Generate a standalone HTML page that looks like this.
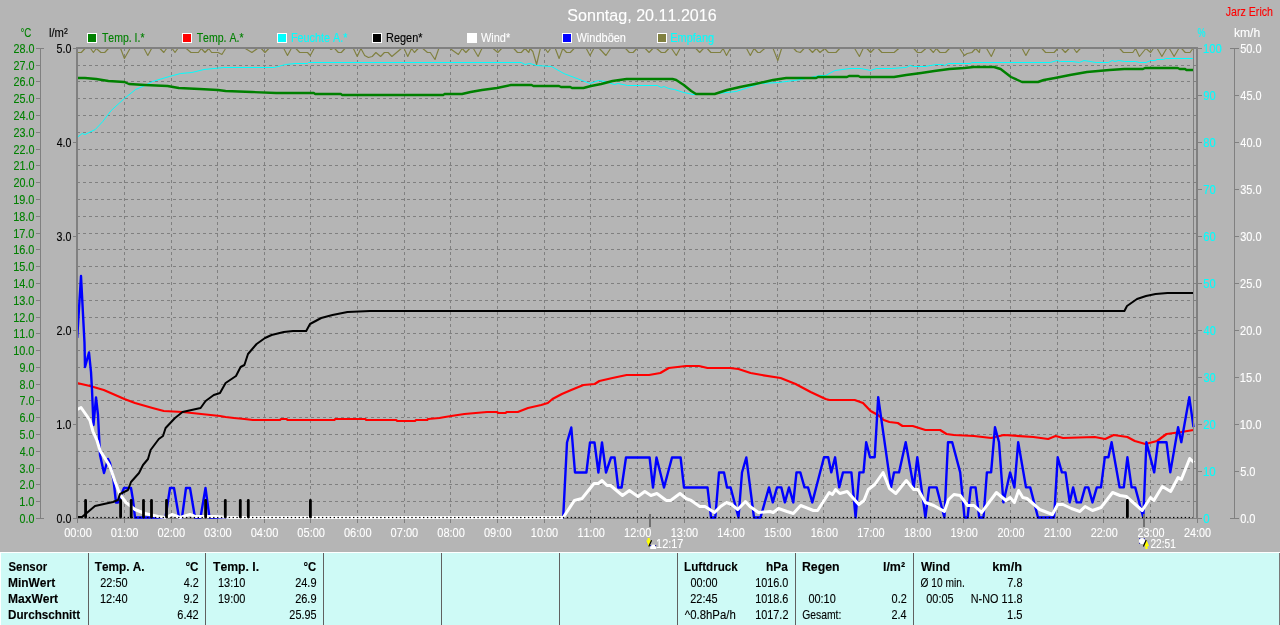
<!DOCTYPE html>
<html lang="de"><head><meta charset="utf-8"><title>Sonntag, 20.11.2016</title>
<style>html,body{margin:0;padding:0;background:#b5b5b5;overflow:hidden}svg{display:block}text{font-kerning:none;font-family:"Liberation Sans",sans-serif;white-space:pre}</style></head><body>
<svg width="1280" height="625" viewBox="0 0 1280 625">
<rect x="0" y="0" width="1280" height="625" fill="#b5b5b5"/>
<g stroke="#808080" stroke-width="1" stroke-dasharray="3 3" shape-rendering="crispEdges" fill="none">
<line x1="77" y1="501.5" x2="1193" y2="501.5"/>
<line x1="77" y1="484.5" x2="1193" y2="484.5"/>
<line x1="77" y1="468.5" x2="1193" y2="468.5"/>
<line x1="77" y1="451.5" x2="1193" y2="451.5"/>
<line x1="77" y1="434.5" x2="1193" y2="434.5"/>
<line x1="77" y1="417.5" x2="1193" y2="417.5"/>
<line x1="77" y1="400.5" x2="1193" y2="400.5"/>
<line x1="77" y1="384.5" x2="1193" y2="384.5"/>
<line x1="77" y1="367.5" x2="1193" y2="367.5"/>
<line x1="77" y1="350.5" x2="1193" y2="350.5"/>
<line x1="77" y1="333.5" x2="1193" y2="333.5"/>
<line x1="77" y1="317.5" x2="1193" y2="317.5"/>
<line x1="77" y1="300.5" x2="1193" y2="300.5"/>
<line x1="77" y1="283.5" x2="1193" y2="283.5"/>
<line x1="77" y1="266.5" x2="1193" y2="266.5"/>
<line x1="77" y1="249.5" x2="1193" y2="249.5"/>
<line x1="77" y1="233.5" x2="1193" y2="233.5"/>
<line x1="77" y1="216.5" x2="1193" y2="216.5"/>
<line x1="77" y1="199.5" x2="1193" y2="199.5"/>
<line x1="77" y1="182.5" x2="1193" y2="182.5"/>
<line x1="77" y1="165.5" x2="1193" y2="165.5"/>
<line x1="77" y1="149.5" x2="1193" y2="149.5"/>
<line x1="77" y1="132.5" x2="1193" y2="132.5"/>
<line x1="77" y1="115.5" x2="1193" y2="115.5"/>
<line x1="77" y1="98.5" x2="1193" y2="98.5"/>
<line x1="77" y1="81.5" x2="1193" y2="81.5"/>
<line x1="77" y1="65.5" x2="1193" y2="65.5"/>
<line x1="124.5" y1="49" x2="124.5" y2="517" stroke-dashoffset="1"/>
<line x1="171.5" y1="49" x2="171.5" y2="517" stroke-dashoffset="1"/>
<line x1="217.5" y1="49" x2="217.5" y2="517" stroke-dashoffset="1"/>
<line x1="264.5" y1="49" x2="264.5" y2="517" stroke-dashoffset="1"/>
<line x1="310.5" y1="49" x2="310.5" y2="517" stroke-dashoffset="1"/>
<line x1="357.5" y1="49" x2="357.5" y2="517" stroke-dashoffset="1"/>
<line x1="404.5" y1="49" x2="404.5" y2="517" stroke-dashoffset="1"/>
<line x1="450.5" y1="49" x2="450.5" y2="517" stroke-dashoffset="1"/>
<line x1="497.5" y1="49" x2="497.5" y2="517" stroke-dashoffset="1"/>
<line x1="544.5" y1="49" x2="544.5" y2="517" stroke-dashoffset="1"/>
<line x1="590.5" y1="49" x2="590.5" y2="517" stroke-dashoffset="1"/>
<line x1="637.5" y1="49" x2="637.5" y2="517" stroke-dashoffset="1"/>
<line x1="684.5" y1="49" x2="684.5" y2="517" stroke-dashoffset="1"/>
<line x1="730.5" y1="49" x2="730.5" y2="517" stroke-dashoffset="1"/>
<line x1="777.5" y1="49" x2="777.5" y2="517" stroke-dashoffset="1"/>
<line x1="823.5" y1="49" x2="823.5" y2="517" stroke-dashoffset="1"/>
<line x1="870.5" y1="49" x2="870.5" y2="517" stroke-dashoffset="1"/>
<line x1="917.5" y1="49" x2="917.5" y2="517" stroke-dashoffset="1"/>
<line x1="963.5" y1="49" x2="963.5" y2="517" stroke-dashoffset="1"/>
<line x1="1010.5" y1="49" x2="1010.5" y2="517" stroke-dashoffset="1"/>
<line x1="1057.5" y1="49" x2="1057.5" y2="517" stroke-dashoffset="1"/>
<line x1="1103.5" y1="49" x2="1103.5" y2="517" stroke-dashoffset="1"/>
<line x1="1150.5" y1="49" x2="1150.5" y2="517" stroke-dashoffset="1"/>
</g>
<g stroke="#808080" stroke-width="1" shape-rendering="crispEdges">
<line x1="77.5" y1="519" x2="77.5" y2="523"/>
<line x1="124.5" y1="519" x2="124.5" y2="523"/>
<line x1="171.5" y1="519" x2="171.5" y2="523"/>
<line x1="217.5" y1="519" x2="217.5" y2="523"/>
<line x1="264.5" y1="519" x2="264.5" y2="523"/>
<line x1="310.5" y1="519" x2="310.5" y2="523"/>
<line x1="357.5" y1="519" x2="357.5" y2="523"/>
<line x1="404.5" y1="519" x2="404.5" y2="523"/>
<line x1="450.5" y1="519" x2="450.5" y2="523"/>
<line x1="497.5" y1="519" x2="497.5" y2="523"/>
<line x1="544.5" y1="519" x2="544.5" y2="523"/>
<line x1="590.5" y1="519" x2="590.5" y2="523"/>
<line x1="637.5" y1="519" x2="637.5" y2="523"/>
<line x1="684.5" y1="519" x2="684.5" y2="523"/>
<line x1="730.5" y1="519" x2="730.5" y2="523"/>
<line x1="777.5" y1="519" x2="777.5" y2="523"/>
<line x1="823.5" y1="519" x2="823.5" y2="523"/>
<line x1="870.5" y1="519" x2="870.5" y2="523"/>
<line x1="917.5" y1="519" x2="917.5" y2="523"/>
<line x1="963.5" y1="519" x2="963.5" y2="523"/>
<line x1="1010.5" y1="519" x2="1010.5" y2="523"/>
<line x1="1057.5" y1="519" x2="1057.5" y2="523"/>
<line x1="1103.5" y1="519" x2="1103.5" y2="523"/>
<line x1="1150.5" y1="519" x2="1150.5" y2="523"/>
<line x1="1197.5" y1="519" x2="1197.5" y2="523"/>
<line x1="1193" y1="518.5" x2="1196" y2="518.5"/>
<line x1="1193" y1="501.5" x2="1196" y2="501.5"/>
<line x1="1193" y1="484.5" x2="1196" y2="484.5"/>
<line x1="1193" y1="468.5" x2="1196" y2="468.5"/>
<line x1="1193" y1="451.5" x2="1196" y2="451.5"/>
<line x1="1193" y1="434.5" x2="1196" y2="434.5"/>
<line x1="1193" y1="417.5" x2="1196" y2="417.5"/>
<line x1="1193" y1="400.5" x2="1196" y2="400.5"/>
<line x1="1193" y1="384.5" x2="1196" y2="384.5"/>
<line x1="1193" y1="367.5" x2="1196" y2="367.5"/>
<line x1="1193" y1="350.5" x2="1196" y2="350.5"/>
<line x1="1193" y1="333.5" x2="1196" y2="333.5"/>
<line x1="1193" y1="317.5" x2="1196" y2="317.5"/>
<line x1="1193" y1="300.5" x2="1196" y2="300.5"/>
<line x1="1193" y1="283.5" x2="1196" y2="283.5"/>
<line x1="1193" y1="266.5" x2="1196" y2="266.5"/>
<line x1="1193" y1="249.5" x2="1196" y2="249.5"/>
<line x1="1193" y1="233.5" x2="1196" y2="233.5"/>
<line x1="1193" y1="216.5" x2="1196" y2="216.5"/>
<line x1="1193" y1="199.5" x2="1196" y2="199.5"/>
<line x1="1193" y1="182.5" x2="1196" y2="182.5"/>
<line x1="1193" y1="165.5" x2="1196" y2="165.5"/>
<line x1="1193" y1="149.5" x2="1196" y2="149.5"/>
<line x1="1193" y1="132.5" x2="1196" y2="132.5"/>
<line x1="1193" y1="115.5" x2="1196" y2="115.5"/>
<line x1="1193" y1="98.5" x2="1196" y2="98.5"/>
<line x1="1193" y1="81.5" x2="1196" y2="81.5"/>
<line x1="1193" y1="65.5" x2="1196" y2="65.5"/>
<line x1="1193" y1="48.5" x2="1196" y2="48.5"/>
</g>
<rect x="76" y="518" width="1122" height="1" fill="#808080"/>
<g fill="none" stroke-linejoin="round" stroke-linecap="butt">
<polyline points="77.5,52.5 81.3,52.5 85.0,48.5 90.6,48.5 93.4,52.5 96.3,48.5 100.9,52.5 104.7,52.5 108.4,48.5 120.6,48.5 124.4,58.5 130.0,48.5 144.1,48.5 147.8,55.5 151.6,48.5 160.0,48.5 163.8,52.5 166.6,48.5 172.2,48.5 175.0,52.5 177.8,48.5 186.3,48.5 190.9,52.5 198.4,52.5 201.3,48.5 205.0,52.5 208.8,48.5 211.6,52.5 218.1,52.5 221.9,54.5 225.6,48.5 245.3,48.5 251.9,52.5 257.5,48.5 261.3,48.5 265.0,52.5 268.8,48.5 283.8,48.5 287.5,55.5 291.3,48.5 295.9,48.5 299.7,52.5 300.0,52.5 307.5,52.5 310.3,55.5 314.1,48.5 330.0,48.5 330.9,49.5 332.8,48.5 334.7,48.5 338.4,52.5 341.3,52.5 345.0,48.5 353.4,48.5 357.2,56.5 360.9,48.5 364.7,55.5 368.4,57.5 372.2,56.5 375.9,52.5 380.6,56.5 384.4,52.5 388.1,52.5 391.9,56.5 401.3,48.5 404.1,48.5 407.8,56.5 411.6,48.5 414.4,52.5 418.1,48.5 422.8,48.5 427.5,52.5 430.3,52.5 435.0,59.5 438.8,48.5 450.0,48.5 455.6,52.5 458.4,54.5 462.2,48.5 465.9,52.5 469.7,48.5 473.4,48.5 478.1,56.5 481.9,48.5 493.1,48.5 497.8,52.5 501.6,48.5 513.8,48.5 517.5,52.5 521.3,52.5 525.0,48.5 528.8,52.5 530.0,48.5 532.8,51.5 536.6,64.5 540.3,48.5 545.0,48.5 547.8,52.5 550.6,48.5 555.3,48.5 559.1,58.5 562.8,48.5 566.6,52.5 570.3,52.5 574.1,48.5 586.3,48.5 590.0,55.5 593.8,48.5 599.4,48.5 605.9,55.5 610.6,48.5 625.6,48.5 629.4,52.5 633.1,52.5 636.9,48.5 645.3,48.5 649.1,52.5 652.8,48.5 656.6,48.5 661.3,52.5 665.0,52.5 668.8,48.5 671.6,48.5 676.3,55.5 680.0,48.5 695.9,48.5 699.7,52.5 703.4,48.5 707.2,48.5 710.9,52.5 720.3,52.5 723.1,48.5 726.5,55.5 730.3,48.5 746.6,48.5 750.3,55.5 754.1,48.5 757.8,52.5 760.0,52.5 764.7,48.5 773.1,48.5 777.8,60.5 781.6,48.5 793.8,48.5 796.6,51.5 800.3,52.5 804.1,48.5 808.8,48.5 812.5,52.5 816.3,48.5 820.0,52.5 824.7,48.5 828.4,52.5 835.9,52.5 839.7,48.5 854.7,48.5 859.4,56.5 863.1,48.5 866.9,48.5 870.6,52.5 874.4,48.5 878.1,48.5 881.9,52.5 894.1,52.5 898.8,48.5 913.8,48.5 917.5,52.5 921.3,52.5 925.9,48.5 929.7,48.5 933.4,52.5 936.3,48.5 940.0,52.5 945.6,52.5 949.4,48.5 959.7,48.5 964.4,55.5 967.2,53.5 971.9,52.5 975.6,48.5 979.4,52.5 980.0,48.5 986.6,48.5 991.3,56.5 995.0,48.5 1022.2,48.5 1025.9,55.5 1029.7,48.5 1041.9,48.5 1045.6,52.5 1054.1,52.5 1057.8,48.5 1061.6,48.5 1065.3,52.5 1069.1,48.5 1073.8,48.5 1076.6,52.5 1080.3,48.5 1119.7,48.5 1123.4,52.5 1132.8,52.5 1135.6,48.5 1139.4,56.5 1145.9,48.5 1150.6,52.5 1153.4,48.5 1157.2,48.5 1161.9,56.5 1166.6,48.5 1169.4,48.5 1174.1,56.5 1178.8,48.5 1181.6,48.5 1185.3,52.5 1190.0,52.5 1192.8,48.5" stroke="#808040" stroke-width="1.15"/>
<polyline points="77.0,137.5 82.2,133.5 85.0,134.5 95.3,129.5 102.8,121.5 111.2,110.5 124.4,98.5 135.6,89.5 145.0,85.5 152.5,81.5 169.4,76.5 180.6,73.5 191.9,72.5 204.0,69.5 223.8,67.5 274.4,67.5 285.6,64.5 295.0,63.5 300.0,63.5 307.5,63.5 308.4,62.5 521.2,62.5 525.0,64.5 529.7,63.5 530.0,63.5 536.5,65.5 551.5,66.5 563.8,73.5 577.0,78.5 590.0,83.5 598.4,80.5 605.0,81.5 614.4,84.5 618.0,83.5 627.5,85.5 657.5,85.5 661.2,87.5 664.0,86.5 668.8,88.5 674.4,89.5 683.8,92.5 693.0,94.5 717.5,93.5 736.2,91.5 751.2,86.5 760.0,83.5 778.8,82.5 793.8,80.5 801.2,79.5 820.0,75.5 825.6,75.5 835.0,70.5 850.0,68.5 861.2,68.5 870.6,70.5 876.2,68.5 891.2,68.5 906.2,67.5 910.0,65.5 913.8,66.5 925.0,66.5 936.2,64.5 942.8,64.5 944.7,65.5 948.4,63.5 970.0,63.5 971.9,62.5 1050.3,62.5 1057.0,60.5 1060.6,61.5 1072.0,61.5 1079.4,62.5 1084.0,60.5 1096.2,62.5 1108.4,62.5 1112.2,60.5 1115.0,61.5 1118.8,60.5 1124.4,61.5 1135.6,61.5 1139.4,62.5 1146.0,62.5 1150.6,60.5 1155.3,60.5 1157.0,59.5 1163.7,59.5 1165.6,58.5 1192.8,58.5" stroke="#00ffff" stroke-width="1"/>
<polyline points="77.0,78.0 85.0,78.0 96.2,79.0 108.4,81.0 124.4,82.0 129.0,84.0 145.0,85.0 167.5,86.0 178.8,88.0 199.4,89.0 218.0,90.0 225.6,91.0 251.9,92.0 276.2,93.0 300.0,93.0 314.0,93.0 315.0,94.0 341.0,94.0 342.0,95.0 443.4,95.0 444.4,94.0 462.0,94.0 470.6,92.0 482.0,90.0 497.0,88.0 511.0,85.0 531.6,85.0 533.4,86.0 559.0,86.0 561.0,87.0 570.3,87.0 572.0,88.0 583.4,88.0 591.0,86.0 601.2,84.0 612.5,81.0 626.6,79.0 672.5,79.0 676.2,80.0 683.8,85.0 691.2,91.0 696.0,94.0 714.7,94.0 727.0,90.0 740.0,87.0 755.0,84.0 773.0,80.0 786.2,78.0 816.2,78.0 818.0,77.0 847.0,77.0 849.0,76.0 858.4,76.0 860.3,77.0 894.0,77.0 906.2,75.0 921.2,73.0 934.4,71.0 949.4,69.0 964.4,68.0 973.8,67.0 994.0,67.0 1000.6,69.0 1011.0,77.0 1022.0,82.0 1038.0,82.0 1043.8,80.0 1055.0,78.0 1070.0,75.0 1087.0,72.0 1109.4,70.0 1124.4,69.0 1143.0,69.0 1145.0,68.0 1177.8,68.0 1179.7,69.0 1185.3,69.0 1186.2,70.0 1193.8,70.0" stroke="#008000" stroke-width="2.4"/>
<polyline points="77.0,383.0 90.0,386.0 103.8,390.0 124.4,399.0 135.0,403.0 152.5,408.0 163.8,411.0 182.5,412.0 201.2,414.0 220.0,416.0 225.6,417.0 234.0,418.0 244.4,419.0 252.8,420.0 280.0,420.0 281.0,419.0 286.6,419.0 287.5,420.0 334.4,420.0 335.3,419.0 365.3,419.0 366.2,420.0 396.2,420.0 397.2,421.0 415.0,421.0 416.0,420.0 427.2,420.0 428.0,419.0 439.4,418.0 445.0,417.0 451.2,416.0 464.4,414.0 487.0,412.0 497.2,412.0 498.0,413.0 505.6,413.0 506.6,412.0 517.8,412.0 528.0,408.0 541.2,405.0 547.8,403.0 552.5,399.0 561.9,394.0 571.2,390.0 583.4,385.0 594.7,384.0 599.4,381.0 612.5,378.0 626.6,375.0 649.0,375.0 660.3,373.0 668.8,368.0 677.5,367.0 686.0,366.0 699.0,366.0 707.5,368.0 730.0,368.0 738.4,369.0 750.6,373.0 761.9,375.0 780.6,378.0 795.6,384.0 810.6,392.0 825.6,399.0 829.4,400.0 854.7,400.0 863.0,403.0 870.6,411.0 878.0,415.0 883.8,420.0 889.4,422.0 897.8,423.0 902.5,426.0 912.7,426.0 925.4,430.0 940.1,430.0 946.5,434.0 953.9,435.0 974.0,436.0 991.1,438.0 1003.8,435.0 1033.4,437.0 1048.2,439.0 1055.6,436.0 1063.0,438.0 1094.7,437.0 1105.2,439.0 1113.7,435.0 1127.4,437.0 1134.8,441.0 1145.4,444.0 1157.0,441.0 1166.5,434.0 1181.3,432.0 1193.5,430.0" stroke="#ff0000" stroke-width="2.2"/>
<polyline points="77.2,338.0 81.0,276.0 84.5,343.0 85.0,367.0 89.0,352.5 91.0,372.0 92.0,390.0 93.5,425.0 96.0,397.5 98.0,415.0 99.0,435.0 100.0,455.0 104.0,473.0 108.0,459.0 110.0,463.0 113.5,480.0 116.0,502.5 118.0,502.5 124.0,488.0 131.0,488.0 133.0,500.0 135.0,517.5 165.5,517.5 170.0,488.0 174.0,488.0 179.0,517.5 182.0,517.5 186.0,488.0 190.0,488.0 195.0,517.5 200.5,517.5 205.5,488.0 209.5,517.5 563.2,517.5 567.0,442.5 571.3,427.5 575.0,472.5 586.4,472.5 590.0,442.5 594.5,442.5 598.4,472.5 602.0,442.5 606.0,472.5 611.0,457.5 614.6,457.5 618.2,487.5 621.6,487.5 626.0,457.5 649.6,457.5 653.0,487.5 656.5,457.5 664.0,487.5 672.0,457.5 680.6,457.5 684.0,487.5 707.5,487.5 711.0,517.5 715.3,517.5 719.0,472.5 724.0,472.5 727.0,487.5 730.6,487.5 738.5,517.5 742.0,472.5 746.3,457.5 754.0,517.5 760.5,517.5 769.0,487.4 772.8,502.4 777.0,487.4 781.3,487.4 784.9,502.4 789.0,487.4 793.3,502.4 796.5,472.4 800.3,472.4 804.5,487.4 808.0,487.4 812.3,502.4 824.0,457.3 828.2,457.3 831.3,472.4 835.1,457.3 839.2,487.4 843.0,472.4 851.4,472.4 855.6,517.5 859.4,472.4 863.5,472.4 866.2,442.2 870.0,457.3 874.7,457.3 878.2,397.1 891.0,487.4 894.0,472.4 899.0,472.4 905.7,442.2 913.7,487.4 917.3,457.3 925.4,517.5 929.2,487.4 936.6,487.4 944.4,517.5 948.0,442.2 952.2,442.2 960.2,472.4 964.5,517.5 967.6,517.5 970.8,487.4 975.6,487.4 979.2,517.5 983.5,517.5 986.9,472.4 991.1,472.4 995.0,427.2 999.0,442.2 1003.4,502.4 1010.1,472.4 1014.4,487.4 1018.2,442.2 1026.0,487.4 1030.2,487.4 1038.0,517.5 1054.1,517.5 1057.7,457.3 1061.9,472.4 1065.5,472.4 1069.7,502.4 1073.1,487.4 1076.7,502.4 1080.9,502.4 1085.1,487.4 1088.3,487.4 1092.5,502.4 1096.8,487.4 1101.0,487.4 1104.8,457.3 1108.4,457.3 1111.6,442.2 1119.6,487.4 1123.8,487.4 1127.4,457.3 1131.6,487.4 1135.2,487.4 1143.3,517.5 1146.4,442.2 1154.2,472.4 1158.0,442.2 1166.5,442.2 1170.3,472.4 1178.1,427.2 1181.3,442.2 1189.3,397.1 1193.5,427.2" stroke="#0000ff" stroke-width="2.4"/>
<polyline points="77.3,409.5 81.0,407.5 88.0,417.5 90.0,420.5 93.0,431.5 97.0,440.5 100.0,450.5 107.0,461.5 110.0,466.5 115.0,481.5 120.0,494.5 126.0,502.5 135.0,509.5 145.0,513.5 158.0,516.5 166.0,517.5 172.0,514.5 180.0,517.5 190.0,514.5 195.0,516.5 215.0,516.5 230.0,517.5 563.2,517.5" stroke="#ffffff" stroke-width="3"/>
<polyline points="563.2,517.5 574.4,500.5 582.0,498.5 594.0,483.5 598.4,483.5 602.0,480.5 607.0,485.5 610.5,485.5 622.5,495.5 629.4,490.5 638.0,496.5 644.8,491.5 650.9,495.5 656.9,493.5 666.3,500.5 670.6,500.5 680.0,493.5 686.0,498.5 691.2,500.5 699.8,506.5 705.0,506.5 714.5,512.5 720.5,506.5 726.5,502.5 731.6,504.5 737.7,509.5 745.4,501.5 750.0,506.5 758.5,512.5 770.0,511.5 773.2,512.5 778.5,508.5 787.0,511.5 793.3,513.5 800.7,505.5 813.4,510.5 817.6,510.5 829.2,492.5 832.4,494.5 835.6,489.5 839.8,493.5 847.2,491.5 858.8,504.5 864.0,500.5 868.3,489.5 874.7,484.5 883.1,472.5 889.4,488.5 895.8,493.5 906.3,480.5 913.7,489.5 918.0,489.5 925.4,502.5 933.8,505.5 944.4,511.5 948.6,499.5 953.9,494.5 960.2,495.5 967.6,505.5 974.0,505.5 981.6,512.5 996.4,492.5 1005.9,500.5 1010.1,497.5 1014.4,502.5 1018.6,490.5 1022.8,497.5 1027.0,498.5 1039.7,509.5 1052.4,514.5 1057.7,504.5 1063.0,504.5 1071.4,508.5 1079.9,511.5 1085.1,506.5 1092.5,510.5 1101.0,507.5 1112.6,492.5 1120.0,495.5 1126.3,496.5 1142.2,510.5 1150.6,497.5 1153.8,500.5 1162.3,486.5 1170.7,491.5 1178.1,477.5 1181.3,479.5 1189.7,458.5 1194.0,462.5" stroke="#ffffff" stroke-width="3"/>
<polyline points="77.0,517.0 82.0,517.0 95.0,506.0 113.0,502.0 118.0,500.0 120.0,494.0 128.0,490.0 131.0,482.0 139.0,473.0 143.0,465.0 148.0,459.0 150.6,450.0 158.8,439.0 163.0,436.0 165.6,428.0 175.0,418.0 182.5,412.0 200.6,408.0 205.6,401.0 213.8,395.0 220.0,393.0 225.6,383.0 236.0,376.0 240.6,367.0 244.4,365.0 248.0,354.0 256.6,344.0 265.0,338.0 271.6,335.0 283.8,332.0 293.0,331.0 306.2,331.0 310.0,324.0 321.2,318.0 332.5,315.0 347.5,312.0 370.0,311.0 1124.4,311.0 1127.0,306.0 1137.0,299.0 1146.0,296.0 1155.6,294.0 1167.5,293.0 1193.5,293.0" stroke="#000000" stroke-width="2"/>
</g>
<g fill="#000">
<rect x="77.1" y="516.9" width="1.4" height="1.2"/>
<rect x="81.0" y="516.9" width="1.4" height="1.2"/>
<rect x="84.9" y="516.9" width="1.4" height="1.2"/>
<rect x="88.8" y="516.9" width="1.4" height="1.2"/>
<rect x="92.6" y="516.9" width="1.4" height="1.2"/>
<rect x="96.5" y="516.9" width="1.4" height="1.2"/>
<rect x="100.4" y="516.9" width="1.4" height="1.2"/>
<rect x="104.3" y="516.9" width="1.4" height="1.2"/>
<rect x="108.2" y="516.9" width="1.4" height="1.2"/>
<rect x="112.1" y="516.9" width="1.4" height="1.2"/>
<rect x="116.0" y="516.9" width="1.4" height="1.2"/>
<rect x="119.8" y="516.9" width="1.4" height="1.2"/>
<rect x="123.7" y="516.9" width="1.4" height="1.2"/>
<rect x="127.6" y="516.9" width="1.4" height="1.2"/>
<rect x="131.5" y="516.9" width="1.4" height="1.2"/>
<rect x="135.4" y="516.9" width="1.4" height="1.2"/>
<rect x="139.3" y="516.9" width="1.4" height="1.2"/>
<rect x="143.2" y="516.9" width="1.4" height="1.2"/>
<rect x="147.1" y="516.9" width="1.4" height="1.2"/>
<rect x="150.9" y="516.9" width="1.4" height="1.2"/>
<rect x="154.8" y="516.9" width="1.4" height="1.2"/>
<rect x="158.7" y="516.9" width="1.4" height="1.2"/>
<rect x="162.6" y="516.9" width="1.4" height="1.2"/>
<rect x="166.5" y="516.9" width="1.4" height="1.2"/>
<rect x="170.4" y="516.9" width="1.4" height="1.2"/>
<rect x="174.3" y="516.9" width="1.4" height="1.2"/>
<rect x="178.1" y="516.9" width="1.4" height="1.2"/>
<rect x="182.0" y="516.9" width="1.4" height="1.2"/>
<rect x="185.9" y="516.9" width="1.4" height="1.2"/>
<rect x="189.8" y="516.9" width="1.4" height="1.2"/>
<rect x="193.7" y="516.9" width="1.4" height="1.2"/>
<rect x="197.6" y="516.9" width="1.4" height="1.2"/>
<rect x="201.5" y="516.9" width="1.4" height="1.2"/>
<rect x="205.3" y="516.9" width="1.4" height="1.2"/>
<rect x="209.2" y="516.9" width="1.4" height="1.2"/>
<rect x="213.1" y="516.9" width="1.4" height="1.2"/>
<rect x="217.0" y="516.9" width="1.4" height="1.2"/>
<rect x="220.9" y="516.9" width="1.4" height="1.2"/>
<rect x="224.8" y="516.9" width="1.4" height="1.2"/>
<rect x="228.7" y="516.9" width="1.4" height="1.2"/>
<rect x="232.6" y="516.9" width="1.4" height="1.2"/>
<rect x="236.4" y="516.9" width="1.4" height="1.2"/>
<rect x="240.3" y="516.9" width="1.4" height="1.2"/>
<rect x="244.2" y="516.9" width="1.4" height="1.2"/>
<rect x="248.1" y="516.9" width="1.4" height="1.2"/>
<rect x="252.0" y="516.9" width="1.4" height="1.2"/>
<rect x="255.9" y="516.9" width="1.4" height="1.2"/>
<rect x="259.8" y="516.9" width="1.4" height="1.2"/>
<rect x="263.6" y="516.9" width="1.4" height="1.2"/>
<rect x="267.5" y="516.9" width="1.4" height="1.2"/>
<rect x="271.4" y="516.9" width="1.4" height="1.2"/>
<rect x="275.3" y="516.9" width="1.4" height="1.2"/>
<rect x="279.2" y="516.9" width="1.4" height="1.2"/>
<rect x="283.1" y="516.9" width="1.4" height="1.2"/>
<rect x="287.0" y="516.9" width="1.4" height="1.2"/>
<rect x="290.8" y="516.9" width="1.4" height="1.2"/>
<rect x="294.7" y="516.9" width="1.4" height="1.2"/>
<rect x="298.6" y="516.9" width="1.4" height="1.2"/>
<rect x="302.5" y="516.9" width="1.4" height="1.2"/>
<rect x="306.4" y="516.9" width="1.4" height="1.2"/>
<rect x="310.3" y="516.9" width="1.4" height="1.2"/>
<rect x="314.2" y="516.9" width="1.4" height="1.2"/>
<rect x="318.1" y="516.9" width="1.4" height="1.2"/>
<rect x="321.9" y="516.9" width="1.4" height="1.2"/>
<rect x="325.8" y="516.9" width="1.4" height="1.2"/>
<rect x="329.7" y="516.9" width="1.4" height="1.2"/>
<rect x="333.6" y="516.9" width="1.4" height="1.2"/>
<rect x="337.5" y="516.9" width="1.4" height="1.2"/>
<rect x="341.4" y="516.9" width="1.4" height="1.2"/>
<rect x="345.3" y="516.9" width="1.4" height="1.2"/>
<rect x="349.1" y="516.9" width="1.4" height="1.2"/>
<rect x="353.0" y="516.9" width="1.4" height="1.2"/>
<rect x="356.9" y="516.9" width="1.4" height="1.2"/>
<rect x="360.8" y="516.9" width="1.4" height="1.2"/>
<rect x="364.7" y="516.9" width="1.4" height="1.2"/>
<rect x="368.6" y="516.9" width="1.4" height="1.2"/>
<rect x="372.5" y="516.9" width="1.4" height="1.2"/>
<rect x="376.3" y="516.9" width="1.4" height="1.2"/>
<rect x="380.2" y="516.9" width="1.4" height="1.2"/>
<rect x="384.1" y="516.9" width="1.4" height="1.2"/>
<rect x="388.0" y="516.9" width="1.4" height="1.2"/>
<rect x="391.9" y="516.9" width="1.4" height="1.2"/>
<rect x="395.8" y="516.9" width="1.4" height="1.2"/>
<rect x="399.7" y="516.9" width="1.4" height="1.2"/>
<rect x="403.5" y="516.9" width="1.4" height="1.2"/>
<rect x="407.4" y="516.9" width="1.4" height="1.2"/>
<rect x="411.3" y="516.9" width="1.4" height="1.2"/>
<rect x="415.2" y="516.9" width="1.4" height="1.2"/>
<rect x="419.1" y="516.9" width="1.4" height="1.2"/>
<rect x="423.0" y="516.9" width="1.4" height="1.2"/>
<rect x="426.9" y="516.9" width="1.4" height="1.2"/>
<rect x="430.8" y="516.9" width="1.4" height="1.2"/>
<rect x="434.6" y="516.9" width="1.4" height="1.2"/>
<rect x="438.5" y="516.9" width="1.4" height="1.2"/>
<rect x="442.4" y="516.9" width="1.4" height="1.2"/>
<rect x="446.3" y="516.9" width="1.4" height="1.2"/>
<rect x="450.2" y="516.9" width="1.4" height="1.2"/>
<rect x="454.1" y="516.9" width="1.4" height="1.2"/>
<rect x="458.0" y="516.9" width="1.4" height="1.2"/>
<rect x="461.8" y="516.9" width="1.4" height="1.2"/>
<rect x="465.7" y="516.9" width="1.4" height="1.2"/>
<rect x="469.6" y="516.9" width="1.4" height="1.2"/>
<rect x="473.5" y="516.9" width="1.4" height="1.2"/>
<rect x="477.4" y="516.9" width="1.4" height="1.2"/>
<rect x="481.3" y="516.9" width="1.4" height="1.2"/>
<rect x="485.2" y="516.9" width="1.4" height="1.2"/>
<rect x="489.0" y="516.9" width="1.4" height="1.2"/>
<rect x="492.9" y="516.9" width="1.4" height="1.2"/>
<rect x="496.8" y="516.9" width="1.4" height="1.2"/>
<rect x="500.7" y="516.9" width="1.4" height="1.2"/>
<rect x="504.6" y="516.9" width="1.4" height="1.2"/>
<rect x="508.5" y="516.9" width="1.4" height="1.2"/>
<rect x="512.4" y="516.9" width="1.4" height="1.2"/>
<rect x="516.3" y="516.9" width="1.4" height="1.2"/>
<rect x="520.1" y="516.9" width="1.4" height="1.2"/>
<rect x="524.0" y="516.9" width="1.4" height="1.2"/>
<rect x="527.9" y="516.9" width="1.4" height="1.2"/>
<rect x="531.8" y="516.9" width="1.4" height="1.2"/>
<rect x="535.7" y="516.9" width="1.4" height="1.2"/>
<rect x="539.6" y="516.9" width="1.4" height="1.2"/>
<rect x="543.5" y="516.9" width="1.4" height="1.2"/>
<rect x="547.3" y="516.9" width="1.4" height="1.2"/>
<rect x="551.2" y="516.9" width="1.4" height="1.2"/>
<rect x="555.1" y="516.9" width="1.4" height="1.2"/>
<rect x="559.0" y="516.9" width="1.4" height="1.2"/>
<rect x="562.9" y="516.9" width="1.4" height="1.2"/>
<rect x="566.8" y="516.9" width="1.4" height="1.2"/>
<rect x="570.7" y="516.9" width="1.4" height="1.2"/>
<rect x="574.5" y="516.9" width="1.4" height="1.2"/>
<rect x="578.4" y="516.9" width="1.4" height="1.2"/>
<rect x="582.3" y="516.9" width="1.4" height="1.2"/>
<rect x="586.2" y="516.9" width="1.4" height="1.2"/>
<rect x="590.1" y="516.9" width="1.4" height="1.2"/>
<rect x="594.0" y="516.9" width="1.4" height="1.2"/>
<rect x="597.9" y="516.9" width="1.4" height="1.2"/>
<rect x="601.8" y="516.9" width="1.4" height="1.2"/>
<rect x="605.6" y="516.9" width="1.4" height="1.2"/>
<rect x="609.5" y="516.9" width="1.4" height="1.2"/>
<rect x="613.4" y="516.9" width="1.4" height="1.2"/>
<rect x="617.3" y="516.9" width="1.4" height="1.2"/>
<rect x="621.2" y="516.9" width="1.4" height="1.2"/>
<rect x="625.1" y="516.9" width="1.4" height="1.2"/>
<rect x="629.0" y="516.9" width="1.4" height="1.2"/>
<rect x="632.8" y="516.9" width="1.4" height="1.2"/>
<rect x="636.7" y="516.9" width="1.4" height="1.2"/>
<rect x="640.6" y="516.9" width="1.4" height="1.2"/>
<rect x="644.5" y="516.9" width="1.4" height="1.2"/>
<rect x="648.4" y="516.9" width="1.4" height="1.2"/>
<rect x="652.3" y="516.9" width="1.4" height="1.2"/>
<rect x="656.2" y="516.9" width="1.4" height="1.2"/>
<rect x="660.0" y="516.9" width="1.4" height="1.2"/>
<rect x="663.9" y="516.9" width="1.4" height="1.2"/>
<rect x="667.8" y="516.9" width="1.4" height="1.2"/>
<rect x="671.7" y="516.9" width="1.4" height="1.2"/>
<rect x="675.6" y="516.9" width="1.4" height="1.2"/>
<rect x="679.5" y="516.9" width="1.4" height="1.2"/>
<rect x="683.4" y="516.9" width="1.4" height="1.2"/>
<rect x="687.2" y="516.9" width="1.4" height="1.2"/>
<rect x="691.1" y="516.9" width="1.4" height="1.2"/>
<rect x="695.0" y="516.9" width="1.4" height="1.2"/>
<rect x="698.9" y="516.9" width="1.4" height="1.2"/>
<rect x="702.8" y="516.9" width="1.4" height="1.2"/>
<rect x="706.7" y="516.9" width="1.4" height="1.2"/>
<rect x="710.6" y="516.9" width="1.4" height="1.2"/>
<rect x="714.5" y="516.9" width="1.4" height="1.2"/>
<rect x="718.3" y="516.9" width="1.4" height="1.2"/>
<rect x="722.2" y="516.9" width="1.4" height="1.2"/>
<rect x="726.1" y="516.9" width="1.4" height="1.2"/>
<rect x="730.0" y="516.9" width="1.4" height="1.2"/>
<rect x="733.9" y="516.9" width="1.4" height="1.2"/>
<rect x="737.8" y="516.9" width="1.4" height="1.2"/>
<rect x="741.7" y="516.9" width="1.4" height="1.2"/>
<rect x="745.5" y="516.9" width="1.4" height="1.2"/>
<rect x="749.4" y="516.9" width="1.4" height="1.2"/>
<rect x="753.3" y="516.9" width="1.4" height="1.2"/>
<rect x="757.2" y="516.9" width="1.4" height="1.2"/>
<rect x="761.1" y="516.9" width="1.4" height="1.2"/>
<rect x="765.0" y="516.9" width="1.4" height="1.2"/>
<rect x="768.9" y="516.9" width="1.4" height="1.2"/>
<rect x="772.7" y="516.9" width="1.4" height="1.2"/>
<rect x="776.6" y="516.9" width="1.4" height="1.2"/>
<rect x="780.5" y="516.9" width="1.4" height="1.2"/>
<rect x="784.4" y="516.9" width="1.4" height="1.2"/>
<rect x="788.3" y="516.9" width="1.4" height="1.2"/>
<rect x="792.2" y="516.9" width="1.4" height="1.2"/>
<rect x="796.1" y="516.9" width="1.4" height="1.2"/>
<rect x="800.0" y="516.9" width="1.4" height="1.2"/>
<rect x="803.8" y="516.9" width="1.4" height="1.2"/>
<rect x="807.7" y="516.9" width="1.4" height="1.2"/>
<rect x="811.6" y="516.9" width="1.4" height="1.2"/>
<rect x="815.5" y="516.9" width="1.4" height="1.2"/>
<rect x="819.4" y="516.9" width="1.4" height="1.2"/>
<rect x="823.3" y="516.9" width="1.4" height="1.2"/>
<rect x="827.2" y="516.9" width="1.4" height="1.2"/>
<rect x="831.0" y="516.9" width="1.4" height="1.2"/>
<rect x="834.9" y="516.9" width="1.4" height="1.2"/>
<rect x="838.8" y="516.9" width="1.4" height="1.2"/>
<rect x="842.7" y="516.9" width="1.4" height="1.2"/>
<rect x="846.6" y="516.9" width="1.4" height="1.2"/>
<rect x="850.5" y="516.9" width="1.4" height="1.2"/>
<rect x="854.4" y="516.9" width="1.4" height="1.2"/>
<rect x="858.2" y="516.9" width="1.4" height="1.2"/>
<rect x="862.1" y="516.9" width="1.4" height="1.2"/>
<rect x="866.0" y="516.9" width="1.4" height="1.2"/>
<rect x="869.9" y="516.9" width="1.4" height="1.2"/>
<rect x="873.8" y="516.9" width="1.4" height="1.2"/>
<rect x="877.7" y="516.9" width="1.4" height="1.2"/>
<rect x="881.6" y="516.9" width="1.4" height="1.2"/>
<rect x="885.5" y="516.9" width="1.4" height="1.2"/>
<rect x="889.3" y="516.9" width="1.4" height="1.2"/>
<rect x="893.2" y="516.9" width="1.4" height="1.2"/>
<rect x="897.1" y="516.9" width="1.4" height="1.2"/>
<rect x="901.0" y="516.9" width="1.4" height="1.2"/>
<rect x="904.9" y="516.9" width="1.4" height="1.2"/>
<rect x="908.8" y="516.9" width="1.4" height="1.2"/>
<rect x="912.7" y="516.9" width="1.4" height="1.2"/>
<rect x="916.5" y="516.9" width="1.4" height="1.2"/>
<rect x="920.4" y="516.9" width="1.4" height="1.2"/>
<rect x="924.3" y="516.9" width="1.4" height="1.2"/>
<rect x="928.2" y="516.9" width="1.4" height="1.2"/>
<rect x="932.1" y="516.9" width="1.4" height="1.2"/>
<rect x="936.0" y="516.9" width="1.4" height="1.2"/>
<rect x="939.9" y="516.9" width="1.4" height="1.2"/>
<rect x="943.7" y="516.9" width="1.4" height="1.2"/>
<rect x="947.6" y="516.9" width="1.4" height="1.2"/>
<rect x="951.5" y="516.9" width="1.4" height="1.2"/>
<rect x="955.4" y="516.9" width="1.4" height="1.2"/>
<rect x="959.3" y="516.9" width="1.4" height="1.2"/>
<rect x="963.2" y="516.9" width="1.4" height="1.2"/>
<rect x="967.1" y="516.9" width="1.4" height="1.2"/>
<rect x="970.9" y="516.9" width="1.4" height="1.2"/>
<rect x="974.8" y="516.9" width="1.4" height="1.2"/>
<rect x="978.7" y="516.9" width="1.4" height="1.2"/>
<rect x="982.6" y="516.9" width="1.4" height="1.2"/>
<rect x="986.5" y="516.9" width="1.4" height="1.2"/>
<rect x="990.4" y="516.9" width="1.4" height="1.2"/>
<rect x="994.3" y="516.9" width="1.4" height="1.2"/>
<rect x="998.2" y="516.9" width="1.4" height="1.2"/>
<rect x="1002.0" y="516.9" width="1.4" height="1.2"/>
<rect x="1005.9" y="516.9" width="1.4" height="1.2"/>
<rect x="1009.8" y="516.9" width="1.4" height="1.2"/>
<rect x="1013.7" y="516.9" width="1.4" height="1.2"/>
<rect x="1017.6" y="516.9" width="1.4" height="1.2"/>
<rect x="1021.5" y="516.9" width="1.4" height="1.2"/>
<rect x="1025.4" y="516.9" width="1.4" height="1.2"/>
<rect x="1029.2" y="516.9" width="1.4" height="1.2"/>
<rect x="1033.1" y="516.9" width="1.4" height="1.2"/>
<rect x="1037.0" y="516.9" width="1.4" height="1.2"/>
<rect x="1040.9" y="516.9" width="1.4" height="1.2"/>
<rect x="1044.8" y="516.9" width="1.4" height="1.2"/>
<rect x="1048.7" y="516.9" width="1.4" height="1.2"/>
<rect x="1052.6" y="516.9" width="1.4" height="1.2"/>
<rect x="1056.4" y="516.9" width="1.4" height="1.2"/>
<rect x="1060.3" y="516.9" width="1.4" height="1.2"/>
<rect x="1064.2" y="516.9" width="1.4" height="1.2"/>
<rect x="1068.1" y="516.9" width="1.4" height="1.2"/>
<rect x="1072.0" y="516.9" width="1.4" height="1.2"/>
<rect x="1075.9" y="516.9" width="1.4" height="1.2"/>
<rect x="1079.8" y="516.9" width="1.4" height="1.2"/>
<rect x="1083.7" y="516.9" width="1.4" height="1.2"/>
<rect x="1087.5" y="516.9" width="1.4" height="1.2"/>
<rect x="1091.4" y="516.9" width="1.4" height="1.2"/>
<rect x="1095.3" y="516.9" width="1.4" height="1.2"/>
<rect x="1099.2" y="516.9" width="1.4" height="1.2"/>
<rect x="1103.1" y="516.9" width="1.4" height="1.2"/>
<rect x="1107.0" y="516.9" width="1.4" height="1.2"/>
<rect x="1110.9" y="516.9" width="1.4" height="1.2"/>
<rect x="1114.7" y="516.9" width="1.4" height="1.2"/>
<rect x="1118.6" y="516.9" width="1.4" height="1.2"/>
<rect x="1122.5" y="516.9" width="1.4" height="1.2"/>
<rect x="1126.4" y="516.9" width="1.4" height="1.2"/>
<rect x="1130.3" y="516.9" width="1.4" height="1.2"/>
<rect x="1134.2" y="516.9" width="1.4" height="1.2"/>
<rect x="1138.1" y="516.9" width="1.4" height="1.2"/>
<rect x="1141.9" y="516.9" width="1.4" height="1.2"/>
<rect x="1145.8" y="516.9" width="1.4" height="1.2"/>
<rect x="1149.7" y="516.9" width="1.4" height="1.2"/>
<rect x="1153.6" y="516.9" width="1.4" height="1.2"/>
<rect x="1157.5" y="516.9" width="1.4" height="1.2"/>
<rect x="1161.4" y="516.9" width="1.4" height="1.2"/>
<rect x="1165.3" y="516.9" width="1.4" height="1.2"/>
<rect x="1169.2" y="516.9" width="1.4" height="1.2"/>
<rect x="1173.0" y="516.9" width="1.4" height="1.2"/>
<rect x="1176.9" y="516.9" width="1.4" height="1.2"/>
<rect x="1180.8" y="516.9" width="1.4" height="1.2"/>
<rect x="1184.7" y="516.9" width="1.4" height="1.2"/>
<rect x="1188.6" y="516.9" width="1.4" height="1.2"/>
<rect x="1192.5" y="516.9" width="1.4" height="1.2"/>
</g>
<g stroke="#000" stroke-width="2.8" stroke-linecap="round">
<line x1="85.6" y1="500.4" x2="85.6" y2="517"/>
<line x1="120.6" y1="500.4" x2="120.6" y2="517"/>
<line x1="131.2" y1="500.4" x2="131.2" y2="517"/>
<line x1="143.5" y1="500.4" x2="143.5" y2="517"/>
<line x1="151.5" y1="500.4" x2="151.5" y2="517"/>
<line x1="166.5" y1="500.4" x2="166.5" y2="517"/>
<line x1="205.6" y1="500.4" x2="205.6" y2="517"/>
<line x1="225.3" y1="500.4" x2="225.3" y2="517"/>
<line x1="240.3" y1="500.4" x2="240.3" y2="517"/>
<line x1="248.3" y1="500.4" x2="248.3" y2="517"/>
<line x1="310.4" y1="500.4" x2="310.4" y2="517"/>
<line x1="1127.4" y1="500.4" x2="1127.4" y2="517"/>
</g>
<rect x="76" y="47" width="2" height="472" fill="#808080"/>
<rect x="76" y="47" width="1122" height="2" fill="#808080"/>
<rect x="1196" y="47" width="2" height="472" fill="#808080"/>
<rect x="1193" y="49" width="1" height="470" fill="#808080"/>
<rect x="40" y="48" width="1" height="471" fill="#808080"/>
<g stroke="#808080" stroke-width="1" shape-rendering="crispEdges">
<line x1="36" y1="518.5" x2="44" y2="518.5"/>
<line x1="36" y1="501.5" x2="40" y2="501.5"/>
<line x1="36" y1="484.5" x2="40" y2="484.5"/>
<line x1="36" y1="468.5" x2="40" y2="468.5"/>
<line x1="36" y1="451.5" x2="40" y2="451.5"/>
<line x1="36" y1="434.5" x2="40" y2="434.5"/>
<line x1="36" y1="417.5" x2="40" y2="417.5"/>
<line x1="36" y1="400.5" x2="40" y2="400.5"/>
<line x1="36" y1="384.5" x2="40" y2="384.5"/>
<line x1="36" y1="367.5" x2="40" y2="367.5"/>
<line x1="36" y1="350.5" x2="40" y2="350.5"/>
<line x1="36" y1="333.5" x2="40" y2="333.5"/>
<line x1="36" y1="317.5" x2="40" y2="317.5"/>
<line x1="36" y1="300.5" x2="40" y2="300.5"/>
<line x1="36" y1="283.5" x2="40" y2="283.5"/>
<line x1="36" y1="266.5" x2="40" y2="266.5"/>
<line x1="36" y1="249.5" x2="40" y2="249.5"/>
<line x1="36" y1="233.5" x2="40" y2="233.5"/>
<line x1="36" y1="216.5" x2="40" y2="216.5"/>
<line x1="36" y1="199.5" x2="40" y2="199.5"/>
<line x1="36" y1="182.5" x2="40" y2="182.5"/>
<line x1="36" y1="165.5" x2="40" y2="165.5"/>
<line x1="36" y1="149.5" x2="40" y2="149.5"/>
<line x1="36" y1="132.5" x2="40" y2="132.5"/>
<line x1="36" y1="115.5" x2="40" y2="115.5"/>
<line x1="36" y1="98.5" x2="40" y2="98.5"/>
<line x1="36" y1="81.5" x2="40" y2="81.5"/>
<line x1="36" y1="65.5" x2="40" y2="65.5"/>
<line x1="36" y1="48.5" x2="44" y2="48.5"/>
<line x1="73" y1="518.5" x2="77" y2="518.5"/>
<line x1="73" y1="424.5" x2="77" y2="424.5"/>
<line x1="73" y1="330.5" x2="77" y2="330.5"/>
<line x1="73" y1="236.5" x2="77" y2="236.5"/>
<line x1="73" y1="142.5" x2="77" y2="142.5"/>
<line x1="73" y1="48.5" x2="77" y2="48.5"/>
<line x1="1198" y1="518.5" x2="1202" y2="518.5"/>
<line x1="1198" y1="471.5" x2="1202" y2="471.5"/>
<line x1="1198" y1="424.5" x2="1202" y2="424.5"/>
<line x1="1198" y1="377.5" x2="1202" y2="377.5"/>
<line x1="1198" y1="330.5" x2="1202" y2="330.5"/>
<line x1="1198" y1="283.5" x2="1202" y2="283.5"/>
<line x1="1198" y1="236.5" x2="1202" y2="236.5"/>
<line x1="1198" y1="189.5" x2="1202" y2="189.5"/>
<line x1="1198" y1="142.5" x2="1202" y2="142.5"/>
<line x1="1198" y1="95.5" x2="1202" y2="95.5"/>
<line x1="1198" y1="48.5" x2="1202" y2="48.5"/>
<line x1="1230" y1="518.5" x2="1239" y2="518.5"/>
<line x1="1234" y1="471.5" x2="1239" y2="471.5"/>
<line x1="1234" y1="424.5" x2="1239" y2="424.5"/>
<line x1="1234" y1="377.5" x2="1239" y2="377.5"/>
<line x1="1234" y1="330.5" x2="1239" y2="330.5"/>
<line x1="1234" y1="283.5" x2="1239" y2="283.5"/>
<line x1="1234" y1="236.5" x2="1239" y2="236.5"/>
<line x1="1234" y1="189.5" x2="1239" y2="189.5"/>
<line x1="1234" y1="142.5" x2="1239" y2="142.5"/>
<line x1="1234" y1="95.5" x2="1239" y2="95.5"/>
<line x1="1230" y1="48.5" x2="1239" y2="48.5"/>
</g>
<rect x="1234" y="48" width="1" height="471" fill="#808080"/>
<text x="19.58" y="523.0" textLength="14.83" lengthAdjust="spacingAndGlyphs" fill="#008000" font-size="13.0" stroke="#008000" stroke-width="0.12">0.0</text>
<text x="19.16" y="506.0" textLength="15.27" lengthAdjust="spacingAndGlyphs" fill="#008000" font-size="13.0" stroke="#008000" stroke-width="0.12">1.0</text>
<text x="19.46" y="489.0" textLength="14.96" lengthAdjust="spacingAndGlyphs" fill="#008000" font-size="13.0" stroke="#008000" stroke-width="0.12">2.0</text>
<text x="19.59" y="473.0" textLength="14.82" lengthAdjust="spacingAndGlyphs" fill="#008000" font-size="13.0" stroke="#008000" stroke-width="0.12">3.0</text>
<text x="19.76" y="456.0" textLength="14.65" lengthAdjust="spacingAndGlyphs" fill="#008000" font-size="13.0" stroke="#008000" stroke-width="0.12">4.0</text>
<text x="19.57" y="439.0" textLength="14.84" lengthAdjust="spacingAndGlyphs" fill="#008000" font-size="13.0" stroke="#008000" stroke-width="0.12">5.0</text>
<text x="19.45" y="422.0" textLength="14.97" lengthAdjust="spacingAndGlyphs" fill="#008000" font-size="13.0" stroke="#008000" stroke-width="0.12">6.0</text>
<text x="19.45" y="405.0" textLength="14.97" lengthAdjust="spacingAndGlyphs" fill="#008000" font-size="13.0" stroke="#008000" stroke-width="0.12">7.0</text>
<text x="19.53" y="389.0" textLength="14.88" lengthAdjust="spacingAndGlyphs" fill="#008000" font-size="13.0" stroke="#008000" stroke-width="0.12">8.0</text>
<text x="19.50" y="372.0" textLength="14.92" lengthAdjust="spacingAndGlyphs" fill="#008000" font-size="13.0" stroke="#008000" stroke-width="0.12">9.0</text>
<text x="13.17" y="355.0" textLength="21.26" lengthAdjust="spacingAndGlyphs" fill="#008000" font-size="13.0" stroke="#008000" stroke-width="0.12">10.0</text>
<text x="13.17" y="338.0" textLength="21.26" lengthAdjust="spacingAndGlyphs" fill="#008000" font-size="13.0" stroke="#008000" stroke-width="0.12">11.0</text>
<text x="13.17" y="322.0" textLength="21.26" lengthAdjust="spacingAndGlyphs" fill="#008000" font-size="13.0" stroke="#008000" stroke-width="0.12">12.0</text>
<text x="13.17" y="305.0" textLength="21.26" lengthAdjust="spacingAndGlyphs" fill="#008000" font-size="13.0" stroke="#008000" stroke-width="0.12">13.0</text>
<text x="13.17" y="288.0" textLength="21.26" lengthAdjust="spacingAndGlyphs" fill="#008000" font-size="13.0" stroke="#008000" stroke-width="0.12">14.0</text>
<text x="13.17" y="271.0" textLength="21.26" lengthAdjust="spacingAndGlyphs" fill="#008000" font-size="13.0" stroke="#008000" stroke-width="0.12">15.0</text>
<text x="13.17" y="254.0" textLength="21.26" lengthAdjust="spacingAndGlyphs" fill="#008000" font-size="13.0" stroke="#008000" stroke-width="0.12">16.0</text>
<text x="13.17" y="238.0" textLength="21.26" lengthAdjust="spacingAndGlyphs" fill="#008000" font-size="13.0" stroke="#008000" stroke-width="0.12">17.0</text>
<text x="13.17" y="221.0" textLength="21.26" lengthAdjust="spacingAndGlyphs" fill="#008000" font-size="13.0" stroke="#008000" stroke-width="0.12">18.0</text>
<text x="13.17" y="204.0" textLength="21.26" lengthAdjust="spacingAndGlyphs" fill="#008000" font-size="13.0" stroke="#008000" stroke-width="0.12">19.0</text>
<text x="13.46" y="187.0" textLength="20.96" lengthAdjust="spacingAndGlyphs" fill="#008000" font-size="13.0" stroke="#008000" stroke-width="0.12">20.0</text>
<text x="13.46" y="170.0" textLength="20.96" lengthAdjust="spacingAndGlyphs" fill="#008000" font-size="13.0" stroke="#008000" stroke-width="0.12">21.0</text>
<text x="13.46" y="154.0" textLength="20.96" lengthAdjust="spacingAndGlyphs" fill="#008000" font-size="13.0" stroke="#008000" stroke-width="0.12">22.0</text>
<text x="13.46" y="137.0" textLength="20.96" lengthAdjust="spacingAndGlyphs" fill="#008000" font-size="13.0" stroke="#008000" stroke-width="0.12">23.0</text>
<text x="13.46" y="120.0" textLength="20.96" lengthAdjust="spacingAndGlyphs" fill="#008000" font-size="13.0" stroke="#008000" stroke-width="0.12">24.0</text>
<text x="13.46" y="103.0" textLength="20.96" lengthAdjust="spacingAndGlyphs" fill="#008000" font-size="13.0" stroke="#008000" stroke-width="0.12">25.0</text>
<text x="13.46" y="86.0" textLength="20.96" lengthAdjust="spacingAndGlyphs" fill="#008000" font-size="13.0" stroke="#008000" stroke-width="0.12">26.0</text>
<text x="13.46" y="70.0" textLength="20.96" lengthAdjust="spacingAndGlyphs" fill="#008000" font-size="13.0" stroke="#008000" stroke-width="0.12">27.0</text>
<text x="13.46" y="53.0" textLength="20.96" lengthAdjust="spacingAndGlyphs" fill="#008000" font-size="13.0" stroke="#008000" stroke-width="0.12">28.0</text>
<text x="56.58" y="523.0" textLength="14.83" lengthAdjust="spacingAndGlyphs" fill="#000" font-size="13.0" stroke="#000" stroke-width="0.12">0.0</text>
<text x="56.16" y="429.0" textLength="15.27" lengthAdjust="spacingAndGlyphs" fill="#000" font-size="13.0" stroke="#000" stroke-width="0.12">1.0</text>
<text x="56.46" y="335.0" textLength="14.96" lengthAdjust="spacingAndGlyphs" fill="#000" font-size="13.0" stroke="#000" stroke-width="0.12">2.0</text>
<text x="56.59" y="241.0" textLength="14.82" lengthAdjust="spacingAndGlyphs" fill="#000" font-size="13.0" stroke="#000" stroke-width="0.12">3.0</text>
<text x="56.76" y="147.0" textLength="14.65" lengthAdjust="spacingAndGlyphs" fill="#000" font-size="13.0" stroke="#000" stroke-width="0.12">4.0</text>
<text x="56.57" y="53.0" textLength="14.84" lengthAdjust="spacingAndGlyphs" fill="#000" font-size="13.0" stroke="#000" stroke-width="0.12">5.0</text>
<text x="1203.35" y="523.0" textLength="6.40" lengthAdjust="spacingAndGlyphs" fill="#00ffff" font-size="13.0" stroke="#00ffff" stroke-width="0.12">0</text>
<text x="1240.17" y="523.0" textLength="15.36" lengthAdjust="spacingAndGlyphs" fill="#fff" font-size="13.0" stroke="#fff" stroke-width="0.12">0.0</text>
<text x="1202.92" y="476.0" textLength="12.83" lengthAdjust="spacingAndGlyphs" fill="#00ffff" font-size="13.0" stroke="#00ffff" stroke-width="0.12">10</text>
<text x="1240.16" y="476.0" textLength="15.37" lengthAdjust="spacingAndGlyphs" fill="#fff" font-size="13.0" stroke="#fff" stroke-width="0.12">5.0</text>
<text x="1203.23" y="429.0" textLength="12.50" lengthAdjust="spacingAndGlyphs" fill="#00ffff" font-size="13.0" stroke="#00ffff" stroke-width="0.12">20</text>
<text x="1239.75" y="429.0" textLength="21.79" lengthAdjust="spacingAndGlyphs" fill="#fff" font-size="13.0" stroke="#fff" stroke-width="0.12">10.0</text>
<text x="1203.38" y="382.0" textLength="12.36" lengthAdjust="spacingAndGlyphs" fill="#00ffff" font-size="13.0" stroke="#00ffff" stroke-width="0.12">30</text>
<text x="1239.75" y="382.0" textLength="21.79" lengthAdjust="spacingAndGlyphs" fill="#fff" font-size="13.0" stroke="#fff" stroke-width="0.12">15.0</text>
<text x="1203.55" y="335.0" textLength="12.18" lengthAdjust="spacingAndGlyphs" fill="#00ffff" font-size="13.0" stroke="#00ffff" stroke-width="0.12">40</text>
<text x="1240.04" y="335.0" textLength="21.49" lengthAdjust="spacingAndGlyphs" fill="#fff" font-size="13.0" stroke="#fff" stroke-width="0.12">20.0</text>
<text x="1203.35" y="288.0" textLength="12.38" lengthAdjust="spacingAndGlyphs" fill="#00ffff" font-size="13.0" stroke="#00ffff" stroke-width="0.12">50</text>
<text x="1240.04" y="288.0" textLength="21.49" lengthAdjust="spacingAndGlyphs" fill="#fff" font-size="13.0" stroke="#fff" stroke-width="0.12">25.0</text>
<text x="1203.23" y="241.0" textLength="12.51" lengthAdjust="spacingAndGlyphs" fill="#00ffff" font-size="13.0" stroke="#00ffff" stroke-width="0.12">60</text>
<text x="1240.18" y="241.0" textLength="21.35" lengthAdjust="spacingAndGlyphs" fill="#fff" font-size="13.0" stroke="#fff" stroke-width="0.12">30.0</text>
<text x="1203.22" y="194.0" textLength="12.52" lengthAdjust="spacingAndGlyphs" fill="#00ffff" font-size="13.0" stroke="#00ffff" stroke-width="0.12">70</text>
<text x="1240.18" y="194.0" textLength="21.35" lengthAdjust="spacingAndGlyphs" fill="#fff" font-size="13.0" stroke="#fff" stroke-width="0.12">35.0</text>
<text x="1203.31" y="147.0" textLength="12.42" lengthAdjust="spacingAndGlyphs" fill="#00ffff" font-size="13.0" stroke="#00ffff" stroke-width="0.12">80</text>
<text x="1240.35" y="147.0" textLength="21.17" lengthAdjust="spacingAndGlyphs" fill="#fff" font-size="13.0" stroke="#fff" stroke-width="0.12">40.0</text>
<text x="1203.27" y="100.0" textLength="12.46" lengthAdjust="spacingAndGlyphs" fill="#00ffff" font-size="13.0" stroke="#00ffff" stroke-width="0.12">90</text>
<text x="1240.35" y="100.0" textLength="21.17" lengthAdjust="spacingAndGlyphs" fill="#fff" font-size="13.0" stroke="#fff" stroke-width="0.12">45.0</text>
<text x="1202.94" y="53.0" textLength="18.80" lengthAdjust="spacingAndGlyphs" fill="#00ffff" font-size="13.0" stroke="#00ffff" stroke-width="0.12">100</text>
<text x="1240.16" y="53.0" textLength="21.37" lengthAdjust="spacingAndGlyphs" fill="#fff" font-size="13.0" stroke="#fff" stroke-width="0.12">50.0</text>
<text x="20.42" y="37.0" textLength="10.95" lengthAdjust="spacingAndGlyphs" fill="#008000" font-size="13.0" stroke="#008000" stroke-width="0.12">°C</text>
<text x="48.94" y="37.0" textLength="18.77" lengthAdjust="spacingAndGlyphs" fill="#000" font-size="13.0" stroke="#000" stroke-width="0.12">l/m²</text>
<text x="1197.48" y="37.0" textLength="8.05" lengthAdjust="spacingAndGlyphs" fill="#00ffff" font-size="13.0" stroke="#00ffff" stroke-width="0.12">%</text>
<text x="1233.88" y="37.0" textLength="26.31" lengthAdjust="spacingAndGlyphs" fill="#fff" font-size="13.0" stroke="#fff" stroke-width="0.12">km/h</text>
<text x="1225.73" y="16.0" textLength="47.26" lengthAdjust="spacingAndGlyphs" fill="#ff0000" font-size="13.0" stroke="#ff0000" stroke-width="0.12">Jarz Erich</text>
<text x="567.27" y="20.6" textLength="149.44" lengthAdjust="spacingAndGlyphs" fill="#fff" font-size="16.2" stroke="#fff" stroke-width="0.12">Sonntag, 20.11.2016</text>
<rect x="87" y="33" width="10" height="10" fill="#fff"/>
<rect x="88" y="34" width="8" height="8" fill="#008000"/>
<text x="101.96" y="42.0" textLength="42.60" lengthAdjust="spacingAndGlyphs" fill="#008000" font-size="13.0" stroke="#008000" stroke-width="0.12">Temp. I.*</text>
<rect x="182" y="33" width="10" height="10" fill="#fff"/>
<rect x="183" y="34" width="8" height="8" fill="#ff0000"/>
<text x="196.66" y="42.0" textLength="46.90" lengthAdjust="spacingAndGlyphs" fill="#008000" font-size="13.0" stroke="#008000" stroke-width="0.12">Temp. A.*</text>
<rect x="277" y="33" width="10" height="10" fill="#fff"/>
<rect x="278" y="34" width="8" height="8" fill="#00ffff"/>
<text x="290.91" y="42.0" textLength="56.46" lengthAdjust="spacingAndGlyphs" fill="#00ffff" font-size="13.0" stroke="#00ffff" stroke-width="0.12">Feuchte A.*</text>
<rect x="372" y="33" width="10" height="10" fill="#fff"/>
<rect x="373" y="34" width="8" height="8" fill="#000"/>
<text x="386.00" y="42.0" textLength="36.47" lengthAdjust="spacingAndGlyphs" fill="#000" font-size="13.0" stroke="#000" stroke-width="0.12">Regen*</text>
<rect x="467" y="33" width="10" height="10" fill="#fff"/>
<rect x="468" y="34" width="8" height="8" fill="#fff"/>
<text x="480.95" y="42.0" textLength="29.22" lengthAdjust="spacingAndGlyphs" fill="#fff" font-size="13.0" stroke="#fff" stroke-width="0.12">Wind*</text>
<rect x="562" y="33" width="10" height="10" fill="#fff"/>
<rect x="563" y="34" width="8" height="8" fill="#0000ff"/>
<text x="576.45" y="42.0" textLength="49.56" lengthAdjust="spacingAndGlyphs" fill="#fff" font-size="13.0" stroke="#fff" stroke-width="0.12">Windböen</text>
<rect x="657" y="33" width="10" height="10" fill="#fff"/>
<rect x="658" y="34" width="8" height="8" fill="#808040"/>
<text x="670.30" y="42.0" textLength="43.80" lengthAdjust="spacingAndGlyphs" fill="#00ffff" font-size="13.0" stroke="#00ffff" stroke-width="0.12">Empfang</text>
<text x="64.17" y="537.0" textLength="27.66" lengthAdjust="spacingAndGlyphs" fill="#fff" font-size="13.0" stroke="#fff" stroke-width="0.12">00:00</text>
<text x="110.80" y="537.0" textLength="27.66" lengthAdjust="spacingAndGlyphs" fill="#fff" font-size="13.0" stroke="#fff" stroke-width="0.12">01:00</text>
<text x="157.44" y="537.0" textLength="27.66" lengthAdjust="spacingAndGlyphs" fill="#fff" font-size="13.0" stroke="#fff" stroke-width="0.12">02:00</text>
<text x="204.08" y="537.0" textLength="27.66" lengthAdjust="spacingAndGlyphs" fill="#fff" font-size="13.0" stroke="#fff" stroke-width="0.12">03:00</text>
<text x="250.71" y="537.0" textLength="27.66" lengthAdjust="spacingAndGlyphs" fill="#fff" font-size="13.0" stroke="#fff" stroke-width="0.12">04:00</text>
<text x="297.35" y="537.0" textLength="27.66" lengthAdjust="spacingAndGlyphs" fill="#fff" font-size="13.0" stroke="#fff" stroke-width="0.12">05:00</text>
<text x="343.98" y="537.0" textLength="27.66" lengthAdjust="spacingAndGlyphs" fill="#fff" font-size="13.0" stroke="#fff" stroke-width="0.12">06:00</text>
<text x="390.62" y="537.0" textLength="27.66" lengthAdjust="spacingAndGlyphs" fill="#fff" font-size="13.0" stroke="#fff" stroke-width="0.12">07:00</text>
<text x="437.26" y="537.0" textLength="27.66" lengthAdjust="spacingAndGlyphs" fill="#fff" font-size="13.0" stroke="#fff" stroke-width="0.12">08:00</text>
<text x="483.89" y="537.0" textLength="27.66" lengthAdjust="spacingAndGlyphs" fill="#fff" font-size="13.0" stroke="#fff" stroke-width="0.12">09:00</text>
<text x="530.83" y="537.0" textLength="27.36" lengthAdjust="spacingAndGlyphs" fill="#fff" font-size="13.0" stroke="#fff" stroke-width="0.12">10:00</text>
<text x="577.46" y="537.0" textLength="27.36" lengthAdjust="spacingAndGlyphs" fill="#fff" font-size="13.0" stroke="#fff" stroke-width="0.12">11:00</text>
<text x="624.10" y="537.0" textLength="27.36" lengthAdjust="spacingAndGlyphs" fill="#fff" font-size="13.0" stroke="#fff" stroke-width="0.12">12:00</text>
<text x="670.74" y="537.0" textLength="27.36" lengthAdjust="spacingAndGlyphs" fill="#fff" font-size="13.0" stroke="#fff" stroke-width="0.12">13:00</text>
<text x="717.37" y="537.0" textLength="27.36" lengthAdjust="spacingAndGlyphs" fill="#fff" font-size="13.0" stroke="#fff" stroke-width="0.12">14:00</text>
<text x="764.01" y="537.0" textLength="27.36" lengthAdjust="spacingAndGlyphs" fill="#fff" font-size="13.0" stroke="#fff" stroke-width="0.12">15:00</text>
<text x="810.64" y="537.0" textLength="27.36" lengthAdjust="spacingAndGlyphs" fill="#fff" font-size="13.0" stroke="#fff" stroke-width="0.12">16:00</text>
<text x="857.28" y="537.0" textLength="27.36" lengthAdjust="spacingAndGlyphs" fill="#fff" font-size="13.0" stroke="#fff" stroke-width="0.12">17:00</text>
<text x="903.92" y="537.0" textLength="27.36" lengthAdjust="spacingAndGlyphs" fill="#fff" font-size="13.0" stroke="#fff" stroke-width="0.12">18:00</text>
<text x="950.55" y="537.0" textLength="27.36" lengthAdjust="spacingAndGlyphs" fill="#fff" font-size="13.0" stroke="#fff" stroke-width="0.12">19:00</text>
<text x="997.48" y="537.0" textLength="27.07" lengthAdjust="spacingAndGlyphs" fill="#fff" font-size="13.0" stroke="#fff" stroke-width="0.12">20:00</text>
<text x="1044.11" y="537.0" textLength="27.07" lengthAdjust="spacingAndGlyphs" fill="#fff" font-size="13.0" stroke="#fff" stroke-width="0.12">21:00</text>
<text x="1090.75" y="537.0" textLength="27.07" lengthAdjust="spacingAndGlyphs" fill="#fff" font-size="13.0" stroke="#fff" stroke-width="0.12">22:00</text>
<text x="1137.38" y="537.0" textLength="27.07" lengthAdjust="spacingAndGlyphs" fill="#fff" font-size="13.0" stroke="#fff" stroke-width="0.12">23:00</text>
<text x="1184.02" y="537.0" textLength="27.07" lengthAdjust="spacingAndGlyphs" fill="#fff" font-size="13.0" stroke="#fff" stroke-width="0.12">24:00</text>
<rect x="649" y="514" width="2" height="13" fill="#707070"/>
<rect x="1143" y="514" width="2" height="13" fill="#707070"/>
<text x="656.07" y="548.0" textLength="27.38" lengthAdjust="spacingAndGlyphs" fill="#fff" font-size="13.0" stroke="#fff" stroke-width="0.12">12:17</text>
<text x="1150.39" y="548.0" textLength="25.41" lengthAdjust="spacingAndGlyphs" fill="#fff" font-size="13.0" stroke="#fff" stroke-width="0.12">22:51</text>
<g>
<path d="M650.2,549 L650.2,547.6 A3,3 0 0 1 656.2,547.6 L656.2,549 Z" fill="#fff"/>
<rect x="650" y="545" width="1.2" height="1.2" fill="#2828a8"/><rect x="655" y="545" width="1.2" height="1.2" fill="#2828a8"/>
<path d="M647.6,538 L649.8,538 L649.8,540.4 L651.5,540.4 L648.6,546.6 L645.8,540.4 L647.6,540.4 Z" fill="#ffff00"/>
<path d="M651.6,540.2 L648.8,546.6" stroke="#000" stroke-width="1.2" fill="none"/>
<path d="M645.6,540.4 L647.6,545" stroke="#8c8cf0" stroke-width="0.8" fill="none" opacity="0.7"/>
</g>
<g>
<rect x="1139" y="538" width="6" height="6" fill="#2828a8"/>
<circle cx="1142" cy="541" r="3.1" fill="#fff"/>
<path d="M1146.5,540 L1149.3,546 L1147.6,546 L1147.6,549 L1145.4,549 L1145.4,546 L1143.7,546 Z" fill="#ffff00"/>
<path d="M1146.2,540 L1143.4,546.4" stroke="#000" stroke-width="1.2" fill="none"/>
<path d="M1147.8,541 L1149.8,546" stroke="#8c8cf0" stroke-width="0.8" fill="none" opacity="0.7"/>
</g>
<rect x="0" y="552" width="1280" height="1" fill="#ffffff"/>
<rect x="0" y="553" width="1280" height="72" fill="#cefaf6"/>
<rect x="0" y="552" width="1" height="73" fill="#ffffff"/>
<rect x="1279" y="553" width="1" height="72" fill="#787878"/>
<rect x="88" y="553" width="1" height="72" fill="#606060"/>
<rect x="205" y="553" width="1" height="72" fill="#606060"/>
<rect x="323" y="553" width="1" height="72" fill="#606060"/>
<rect x="441" y="553" width="1" height="72" fill="#606060"/>
<rect x="559" y="553" width="1" height="72" fill="#606060"/>
<rect x="677" y="553" width="1" height="72" fill="#606060"/>
<rect x="795" y="553" width="1" height="72" fill="#606060"/>
<rect x="913" y="553" width="1" height="72" fill="#606060"/>
<text x="8.47" y="571.0" textLength="38.60" lengthAdjust="spacingAndGlyphs" fill="#000" font-size="13.0" font-weight="bold" stroke="#000" stroke-width="0.12">Sensor</text>
<text x="8.00" y="587.0" textLength="47.15" lengthAdjust="spacingAndGlyphs" fill="#000" font-size="13.0" font-weight="bold" stroke="#000" stroke-width="0.12">MinWert</text>
<text x="7.99" y="603.0" textLength="50.15" lengthAdjust="spacingAndGlyphs" fill="#000" font-size="13.0" font-weight="bold" stroke="#000" stroke-width="0.12">MaxWert</text>
<text x="8.02" y="619.0" textLength="72.13" lengthAdjust="spacingAndGlyphs" fill="#000" font-size="13.0" font-weight="bold" stroke="#000" stroke-width="0.12">Durchschnitt</text>
<text x="94.87" y="571.0" textLength="49.74" lengthAdjust="spacingAndGlyphs" fill="#000" font-size="13.0" font-weight="bold" stroke="#000" stroke-width="0.12">Temp. A.</text>
<text x="185.39" y="571.0" textLength="13.13" lengthAdjust="spacingAndGlyphs" fill="#000" font-size="13.0" font-weight="bold" stroke="#000" stroke-width="0.12">°C</text>
<text x="100.25" y="587.0" textLength="27.38" lengthAdjust="spacingAndGlyphs" fill="#000" font-size="13.0" stroke="#000" stroke-width="0.12">22:50</text>
<text x="183.65" y="587.0" textLength="15.10" lengthAdjust="spacingAndGlyphs" fill="#000" font-size="13.0" stroke="#000" stroke-width="0.12">4.2</text>
<text x="99.96" y="603.0" textLength="27.67" lengthAdjust="spacingAndGlyphs" fill="#000" font-size="13.0" stroke="#000" stroke-width="0.12">12:40</text>
<text x="183.38" y="603.0" textLength="15.37" lengthAdjust="spacingAndGlyphs" fill="#000" font-size="13.0" stroke="#000" stroke-width="0.12">9.2</text>
<text x="177.34" y="619.0" textLength="21.41" lengthAdjust="spacingAndGlyphs" fill="#000" font-size="13.0" stroke="#000" stroke-width="0.12">6.42</text>
<text x="212.96" y="571.0" textLength="46.18" lengthAdjust="spacingAndGlyphs" fill="#000" font-size="13.0" font-weight="bold" stroke="#000" stroke-width="0.12">Temp. I.</text>
<text x="303.60" y="571.0" textLength="12.71" lengthAdjust="spacingAndGlyphs" fill="#000" font-size="13.0" font-weight="bold" stroke="#000" stroke-width="0.12">°C</text>
<text x="217.96" y="587.0" textLength="27.46" lengthAdjust="spacingAndGlyphs" fill="#000" font-size="13.0" stroke="#000" stroke-width="0.12">13:10</text>
<text x="295.15" y="587.0" textLength="21.37" lengthAdjust="spacingAndGlyphs" fill="#000" font-size="13.0" stroke="#000" stroke-width="0.12">24.9</text>
<text x="217.96" y="603.0" textLength="27.46" lengthAdjust="spacingAndGlyphs" fill="#000" font-size="13.0" stroke="#000" stroke-width="0.12">19:00</text>
<text x="295.15" y="603.0" textLength="21.37" lengthAdjust="spacingAndGlyphs" fill="#000" font-size="13.0" stroke="#000" stroke-width="0.12">26.9</text>
<text x="289.36" y="619.0" textLength="27.10" lengthAdjust="spacingAndGlyphs" fill="#000" font-size="13.0" stroke="#000" stroke-width="0.12">25.95</text>
<text x="684.12" y="571.0" textLength="53.57" lengthAdjust="spacingAndGlyphs" fill="#000" font-size="13.0" font-weight="bold" stroke="#000" stroke-width="0.12">Luftdruck</text>
<text x="766.07" y="571.0" textLength="21.75" lengthAdjust="spacingAndGlyphs" fill="#000" font-size="13.0" font-weight="bold" stroke="#000" stroke-width="0.12">hPa</text>
<text x="690.38" y="587.0" textLength="27.15" lengthAdjust="spacingAndGlyphs" fill="#000" font-size="13.0" stroke="#000" stroke-width="0.12">00:00</text>
<text x="755.17" y="587.0" textLength="33.15" lengthAdjust="spacingAndGlyphs" fill="#000" font-size="13.0" stroke="#000" stroke-width="0.12">1016.0</text>
<text x="690.25" y="603.0" textLength="27.31" lengthAdjust="spacingAndGlyphs" fill="#000" font-size="13.0" stroke="#000" stroke-width="0.12">22:45</text>
<text x="755.17" y="603.0" textLength="33.20" lengthAdjust="spacingAndGlyphs" fill="#000" font-size="13.0" stroke="#000" stroke-width="0.12">1018.6</text>
<text x="684.84" y="619.0" textLength="50.89" lengthAdjust="spacingAndGlyphs" fill="#000" font-size="13.0" stroke="#000" stroke-width="0.12">^0.8hPa/h</text>
<text x="755.17" y="619.0" textLength="33.28" lengthAdjust="spacingAndGlyphs" fill="#000" font-size="13.0" stroke="#000" stroke-width="0.12">1017.2</text>
<text x="801.88" y="571.0" textLength="37.69" lengthAdjust="spacingAndGlyphs" fill="#000" font-size="13.0" font-weight="bold" stroke="#000" stroke-width="0.12">Regen</text>
<text x="882.93" y="571.0" textLength="22.13" lengthAdjust="spacingAndGlyphs" fill="#000" font-size="13.0" font-weight="bold" stroke="#000" stroke-width="0.12">l/m²</text>
<text x="808.47" y="603.0" textLength="27.25" lengthAdjust="spacingAndGlyphs" fill="#000" font-size="13.0" stroke="#000" stroke-width="0.12">00:10</text>
<text x="891.57" y="603.0" textLength="15.18" lengthAdjust="spacingAndGlyphs" fill="#000" font-size="13.0" stroke="#000" stroke-width="0.12">0.2</text>
<text x="802.18" y="619.0" textLength="39.17" lengthAdjust="spacingAndGlyphs" fill="#000" font-size="13.0" stroke="#000" stroke-width="0.12">Gesamt:</text>
<text x="891.46" y="619.0" textLength="15.06" lengthAdjust="spacingAndGlyphs" fill="#000" font-size="13.0" stroke="#000" stroke-width="0.12">2.4</text>
<text x="920.89" y="571.0" textLength="29.10" lengthAdjust="spacingAndGlyphs" fill="#000" font-size="13.0" font-weight="bold" stroke="#000" stroke-width="0.12">Wind</text>
<text x="992.20" y="571.0" textLength="29.99" lengthAdjust="spacingAndGlyphs" fill="#000" font-size="13.0" font-weight="bold" stroke="#000" stroke-width="0.12">km/h</text>
<text x="920.55" y="587.0" textLength="44.18" lengthAdjust="spacingAndGlyphs" fill="#000" font-size="13.0" stroke="#000" stroke-width="0.12">Ø 10 min.</text>
<text x="1007.24" y="587.0" textLength="15.24" lengthAdjust="spacingAndGlyphs" fill="#000" font-size="13.0" stroke="#000" stroke-width="0.12">7.8</text>
<text x="926.27" y="603.0" textLength="27.28" lengthAdjust="spacingAndGlyphs" fill="#000" font-size="13.0" stroke="#000" stroke-width="0.12">00:05</text>
<text x="970.71" y="603.0" textLength="51.76" lengthAdjust="spacingAndGlyphs" fill="#000" font-size="13.0" stroke="#000" stroke-width="0.12">N-NO 11.8</text>
<text x="1006.95" y="619.0" textLength="15.52" lengthAdjust="spacingAndGlyphs" fill="#000" font-size="13.0" stroke="#000" stroke-width="0.12">1.5</text>
</svg></body></html>
